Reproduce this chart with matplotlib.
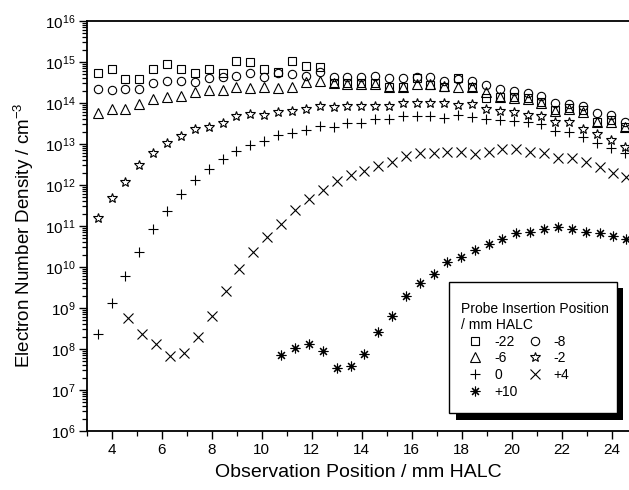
import numpy as np
import matplotlib
matplotlib.use("Agg")
import matplotlib.pyplot as plt
from matplotlib.patches import Rectangle
from matplotlib.ticker import LogLocator, MultipleLocator, NullFormatter

plt.rcParams['font.family'] = ['Liberation Sans', 'DejaVu Sans']
plt.rcParams['mathtext.fontset'] = 'custom'
plt.rcParams['mathtext.rm'] = 'Liberation Sans'
plt.rcParams['mathtext.it'] = 'Liberation Sans:italic'
plt.rcParams['mathtext.bf'] = 'Liberation Sans:bold'
plt.rcParams['mathtext.default'] = 'regular'

# Observation positions (mm HALC)
pos_a = [3.43, 3.99, 4.54, 5.10, 5.65, 6.21, 6.76, 7.32, 7.87, 8.43, 8.98, 9.54,
         10.09, 10.65, 11.20, 11.76, 12.31, 12.87, 13.42, 13.98, 14.53, 15.09,
         15.64, 16.20, 16.75, 17.31, 17.86, 18.42, 18.97, 19.53, 20.08, 20.64,
         21.19, 21.75, 22.30, 22.86, 23.41, 23.97, 24.52]
pos_b = [4.65, 5.21, 5.76, 6.32, 6.88, 7.43, 7.99, 8.55, 9.09, 9.65, 10.21, 10.76,
         11.32, 11.88, 12.43, 12.99, 13.55, 14.09, 14.65, 15.21, 15.76, 16.32,
         16.88, 17.43, 17.97, 18.52, 19.08, 19.63, 20.19, 20.75, 21.29, 21.85,
         22.41, 22.96, 23.52, 24.05, 24.59]
pos_c = pos_b[11:]

# log10 of electron number density (cm^-3) for each probe insertion position
log_n_m22 = [14.74, 14.82, 14.59, 14.59, 14.83, 14.94, 14.82, 14.74, 14.83, 14.74,
             15.02, 14.99, 14.82, 14.75, 15.03, 14.90, 14.87, 14.48, 14.48, 14.48,
             14.48, 14.40, 14.40, 14.62, 14.44, 14.40, 14.62, 14.40, 14.11, 14.15,
             14.15, 14.11, 14.03, 13.83, 13.87, 13.83, 13.54, 13.59, 13.42]
log_n_m8 = [14.34, 14.32, 14.33, 14.34, 14.48, 14.54, 14.54, 14.52, 14.60, 14.63,
            14.67, 14.74, 14.64, 14.74, 14.71, 14.66, 14.76, 14.64, 14.64, 14.64,
            14.67, 14.60, 14.60, 14.64, 14.64, 14.54, 14.59, 14.53, 14.44, 14.34,
            14.30, 14.24, 14.17, 13.99, 13.97, 13.93, 13.76, 13.71, 13.54]
log_n_m6 = [13.76, 13.85, 13.85, 13.97, 14.09, 14.15, 14.17, 14.28, 14.32, 14.32,
            14.40, 14.37, 14.40, 14.37, 14.38, 14.50, 14.54, 14.48, 14.46, 14.46,
            14.46, 14.40, 14.40, 14.46, 14.46, 14.42, 14.38, 14.40, 14.28, 14.15,
            14.11, 14.09, 14.01, 13.81, 13.85, 13.79, 13.54, 13.54, 13.42]
log_n_m2 = [11.20, 11.69, 12.08, 12.48, 12.79, 13.02, 13.20, 13.36, 13.42, 13.50,
            13.69, 13.73, 13.71, 13.79, 13.81, 13.85, 13.93, 13.91, 13.93, 13.93,
            13.93, 13.93, 13.99, 13.99, 14.01, 13.99, 13.95, 13.97, 13.85, 13.80,
            13.79, 13.71, 13.69, 13.54, 13.54, 13.36, 13.25, 13.10, 12.93]
log_n_0 = [8.37, 9.11, 9.78, 10.37, 10.93, 11.37, 11.77, 12.12, 12.40, 12.63,
           12.83, 12.98, 13.08, 13.22, 13.26, 13.34, 13.45, 13.42, 13.50, 13.50,
           13.60, 13.61, 13.69, 13.69, 13.69, 13.63, 13.71, 13.67, 13.60, 13.59,
           13.57, 13.54, 13.48, 13.32, 13.30, 13.16, 13.03, 12.90, 12.79]
log_n_p4 = [8.76, 8.37, 8.12, 7.83, 7.91, 8.30, 8.81, 9.42, 9.95, 10.37,
            10.72, 11.05, 11.39, 11.66, 11.89, 12.10, 12.24, 12.35, 12.47, 12.55,
            12.71, 12.77, 12.77, 12.80, 12.80, 12.76, 12.81, 12.89, 12.87, 12.81,
            12.77, 12.67, 12.65, 12.57, 12.43, 12.30, 12.20]
log_n_p10 = [7.85, 8.02, 8.12, 7.96, 7.54, 7.59, 7.89, 8.42, 8.80, 9.29,
             9.62, 9.83, 10.11, 10.25, 10.41, 10.56, 10.68, 10.84, 10.85, 10.92,
             10.97, 10.93, 10.85, 10.82, 10.76, 10.68]

labels = ['-22', '-8', '-6', '-2', '0', '+4', '+10']

series = [
    (pos_a, log_n_m22, dict(marker='s', ms=5.4)),
    (pos_a, log_n_m8, dict(marker='o', ms=6.0)),
    (pos_a, log_n_m6, dict(marker='^', ms=6.6)),
    (pos_a, log_n_m2, dict(marker='*', ms=7.0)),
    (pos_a, log_n_0, dict(marker='+', ms=6.6)),
    (pos_b, log_n_p4, dict(marker='x', ms=6.8)),
    (pos_c, log_n_p10, dict(marker=(8, 2, 0), ms=7.0)),
]

fig = plt.figure(figsize=(6.29, 4.90), dpi=100)
ax = fig.add_axes([87 / 629, 59 / 490, 542 / 629, 410 / 490])

handles = []
for (xs, logs, style), lab in zip(series, labels):
    h, = ax.plot(xs, 10.0 ** np.asarray(logs), linestyle='none', color='black',
                 mfc='none', mec='black', mew=0.8, label=lab, **style)
    handles.append(h)

ax.set_yscale('log')
ax.set_xlim(3, 24.7)
ax.set_ylim(1e6, 1e16)

ax.xaxis.set_major_locator(MultipleLocator(2))
ax.xaxis.set_minor_locator(MultipleLocator(1))
ax.yaxis.set_major_locator(LogLocator(base=10, numticks=20))
ax.yaxis.set_minor_locator(LogLocator(base=10, subs=np.arange(2, 10), numticks=200))
ax.yaxis.set_minor_formatter(NullFormatter())

for s in ['left', 'top', 'bottom']:
    ax.spines[s].set_linewidth(1.3)
ax.spines['right'].set_visible(False)
ax.tick_params(axis='both', which='major', direction='out', length=5.5, width=1.0,
               labelsize=11, pad=3)
ax.tick_params(axis='both', which='minor', direction='out', length=3.5, width=0.9)
ax.tick_params(top=False, right=False)

ax.set_xlabel('Observation Position / mm HALC', fontsize=14, labelpad=5.5)
ax.set_ylabel('Electron Number Density / cm$^{-3}$', fontsize=13.5)
ax.yaxis.set_label_coords(-0.094, 0.478)

# legend box with a solid drop shadow
box_x0, box_y0, box_x1, box_y1 = 0.6685, 0.0432, 0.9773, 0.3641
shadow_dx, shadow_dy = 0.012, 0.016
ax.add_patch(Rectangle((box_x0 + shadow_dx, box_y0 - shadow_dy), box_x1 - box_x0,
                       box_y1 - box_y0, transform=ax.transAxes, facecolor='black',
                       edgecolor='none', zorder=4.8, clip_on=False))
ax.add_patch(Rectangle((box_x0, box_y0), box_x1 - box_x0, box_y1 - box_y0,
                       transform=ax.transAxes, facecolor='white', edgecolor='black',
                       linewidth=1.0, zorder=4.9, clip_on=False))

# entries ordered column-wise so rows read -22/-8, -6/-2, 0/+4, +10
order = [0, 2, 4, 6, 1, 3, 5]
leg = ax.legend([handles[i] for i in order], [labels[i] for i in order],
                title='Probe Insertion Position\n/ mm HALC', title_fontsize=10,
                fontsize=10, ncol=2, loc='upper left', bbox_to_anchor=(0.6895, 0.315),
                borderaxespad=0, frameon=False, borderpad=0, labelspacing=0.19,
                handlelength=2.1, handletextpad=0.3, columnspacing=0.2,
                alignment='left')
leg.set_zorder(5)

fig.savefig('out.png', dpi=100)
